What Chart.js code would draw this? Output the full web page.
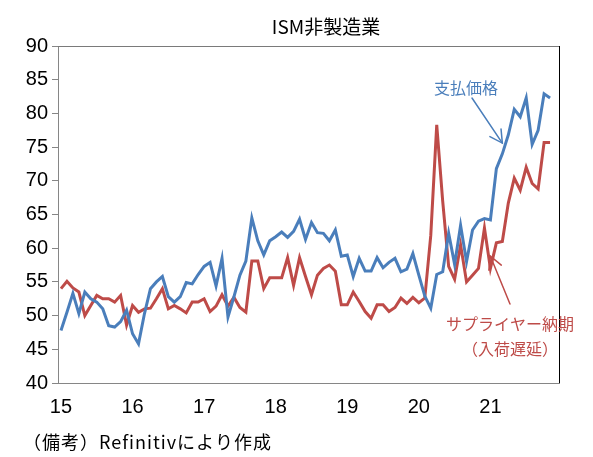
<!DOCTYPE html>
<html><head><meta charset="utf-8">
<script src="https://cdn.jsdelivr.net/npm/chart.js@4.4.1/dist/chart.umd.min.js"></script>
<style>html,body{margin:0;padding:0;background:#fff;}#wrap{width:593px;height:457px;position:relative;}</style>
</head><body><div id="wrap"><canvas id="c" width="593" height="457"></canvas></div>
<script>
// ---- data ----
const years = ['15','16','17','18','19','20','21'];
const monthsPerYear = 12;
const titleText = 'ISM非製造業';
const footerText = '（備考）Refinitivにより作成';
const priceLabel = '支払価格';
const supplierLabel1 = 'サプライヤー納期';
const supplierLabel2 = '（入荷遅延）';
// Prices paid index, Jan 2015 - Nov 2021
const prices = [
47.8,50.5,53.3,50.3,53.5,52.5,52.0,51.0,48.5,48.3,49.1,50.8,
47.3,45.8,50.3,54.0,55.0,55.8,52.8,52.0,52.8,54.9,54.7,56.1,
57.3,57.9,54.4,58.5,49.8,52.8,56.0,58.1,64.5,61.1,59.0,61.1,
61.7,62.4,61.6,62.5,64.3,61.3,63.8,62.3,62.2,61.1,62.7,58.8,
59.0,55.8,58.5,56.6,56.6,58.6,57.1,57.9,58.5,56.5,56.9,59.2,
56.0,52.9,51.1,56.1,56.5,62.2,57.6,63.4,58.0,62.7,64.0,64.4,
64.2,71.8,74.0,76.8,80.6,79.5,82.3,75.4,77.5,82.9,82.3
];
// Supplier deliveries index, Jan 2015 - Nov 2021
const supplier = [
54.0,55.1,54.1,53.5,50.0,51.5,53.0,52.5,52.5,52.0,53.0,48.6,
51.5,50.5,51.0,51.1,52.5,54.0,51.0,51.5,51.0,50.4,52.0,52.0,
52.5,50.6,51.4,53.1,51.4,52.7,51.2,50.5,58.1,58.1,54.0,55.6,
55.6,55.6,58.6,54.5,58.6,55.8,53.1,56.0,57.0,57.5,56.6,51.6,
51.6,53.5,52.1,50.6,49.6,51.6,51.6,50.6,51.2,52.6,51.8,52.7,
51.9,52.6,61.9,78.3,67.0,57.3,55.4,60.5,55.0,56.0,57.0,63.0,
57.0,60.8,61.0,66.7,70.4,68.6,72.0,69.6,68.8,75.7,75.7
];
const yMin = 40, yMax = 90, yStep = 5;
// annotation anchors (category index, value)
const priceArrowTip = [74, 75.6];
const supplierArrowTip = [72, 58.8];

const labels = [];
years.forEach(y => { for (let m = 1; m <= monthsPerYear; m++) labels.push('20' + y + '-' + String(m).padStart(2, '0')); });

const BLUE = '#4A7EBB', RED = '#BE4B48';
const TICKFONT = "'Liberation Sans', Arial, sans-serif";
const JP = "'Noto Sans CJK JP', 'Noto Sans', sans-serif";

function arrow(ctx, x0, y0, x1, y1, color) {
  ctx.save();
  ctx.strokeStyle = color; ctx.lineWidth = 1.5; ctx.lineCap = 'round';
  ctx.beginPath(); ctx.moveTo(x0, y0); ctx.lineTo(x1, y1); ctx.stroke();
  const a = Math.atan2(y1 - y0, x1 - x0), L = 14, h = 0.5;
  ctx.beginPath();
  ctx.moveTo(x1 - L * Math.cos(a - h), y1 - L * Math.sin(a - h));
  ctx.lineTo(x1, y1);
  ctx.lineTo(x1 - L * Math.cos(a + h), y1 - L * Math.sin(a + h));
  ctx.stroke();
  ctx.restore();
}

const decor = {
  id: 'decor',
  afterDraw(chart) {
    const ctx = chart.ctx, ca = chart.chartArea;
    const xs = chart.scales.x, ys = chart.scales.y;
    ctx.save();
    // top & right border
    ctx.lineWidth = 1;
    ctx.strokeStyle = '#7a7a7a';
    ctx.beginPath(); ctx.moveTo(ca.left, ca.top + 0.5); ctx.lineTo(ca.right, ca.top + 0.5); ctx.stroke();
    ctx.strokeStyle = '#000';
    ctx.beginPath(); ctx.moveTo(ca.right + 0.5, ca.top); ctx.lineTo(ca.right + 0.5, ca.bottom); ctx.stroke();
    // title
    ctx.fillStyle = '#000';
    ctx.font = '19px ' + JP;
    ctx.textAlign = 'center'; ctx.textBaseline = 'middle';
    ctx.fillText(titleText, 326, 27);
    // footer
    ctx.font = '18px ' + JP;
    ctx.textAlign = 'left';
    ctx.letterSpacing = '1px';
    ctx.fillText(footerText, 23, 442);
    ctx.letterSpacing = '0px';
    // annotations
    ctx.textAlign = 'center';
    ctx.font = '16px ' + JP;
    ctx.fillStyle = BLUE;
    ctx.fillText(priceLabel, 466, 88);
    ctx.fillStyle = RED;
    ctx.fillText(supplierLabel1, 510, 324);
    ctx.fillText(supplierLabel2, 510, 349);
    arrow(ctx, 472, 98, xs.getPixelForValue(priceArrowTip[0]), ys.getPixelForValue(priceArrowTip[1]), BLUE);
    arrow(ctx, 510, 304, xs.getPixelForValue(supplierArrowTip[0]), ys.getPixelForValue(supplierArrowTip[1]), RED);
    ctx.restore();
  }
};

new Chart(document.getElementById('c'), {
  type: 'line',
  data: {
    labels: labels,
    datasets: [
      { label: priceLabel, data: prices, borderColor: BLUE, borderWidth: 3, pointRadius: 0, tension: 0, fill: false },
      { label: supplierLabel1, data: supplier, borderColor: RED, borderWidth: 3, pointRadius: 0, tension: 0, fill: false }
    ]
  },
  options: {
    responsive: false, animation: false, devicePixelRatio: 1,
    layout: { padding: { left: 0, right: 34, top: 46, bottom: 0 } },
    plugins: { legend: { display: false }, tooltip: { enabled: false }, title: { display: false } },
    scales: {
      x: {
        type: 'category', offset: true,
        grid: { display: false, drawTicks: false },
        border: { display: true, color: '#868686', width: 1 },
        ticks: {
          autoSkip: false, maxRotation: 0, minRotation: 0, padding: 12,
          color: '#000', font: { family: TICKFONT, size: 20 },
          callback: (v, i) => (i % monthsPerYear === 0 ? years[i / monthsPerYear] : '')
        },
        afterFit: s => { s.height = 74; }
      },
      y: {
        min: yMin, max: yMax,
        ticks: { stepSize: yStep, padding: 4, color: '#000', font: { family: TICKFONT, size: 20 } },
        grid: { drawOnChartArea: false, drawTicks: true, tickLength: 6, color: '#868686' },
        border: { display: true, color: '#868686', width: 1 },
        afterFit: s => { s.width = 58; }
      }
    }
  },
  plugins: [decor]
});
</script>
</body></html>
